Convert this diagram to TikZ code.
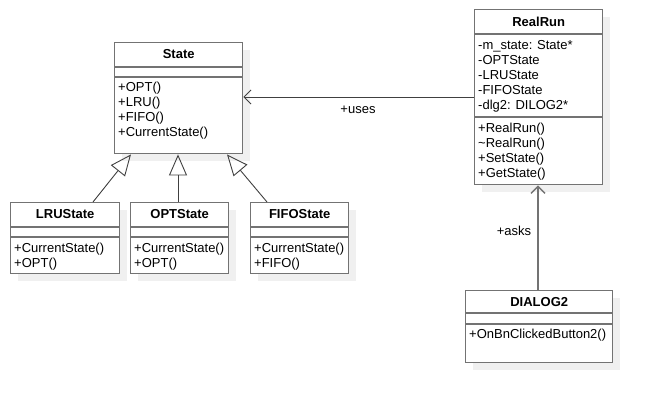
\documentclass[tikz,border=0pt]{standalone}
\usepackage{fontspec}
\setmainfont{Liberation Sans}
\usetikzlibrary{arrows.meta,shadows}

\tikzset{
  umlbox/.style={draw=black!55, line width=1.4pt, fill=white, anchor=north west,
    inner sep=0pt,
    drop shadow={shadow xshift=7pt, shadow yshift=-7pt, fill=black!6, opacity=1}},
  umlsep/.style={draw=black!55, line width=1.4pt},
  umltitle/.style={font=\fontsize{13}{15}\selectfont\bfseries, inner sep=0pt},
  umltext/.style={anchor=base west, inner sep=0pt},
  umlline/.style={draw=black!75, line width=0.9pt},
  isa/.style={umlline, -{Triangle[open,length=21pt,width=18pt]}},
}

\begin{document}
\begin{tikzpicture}[x=1pt,y=-1pt,font=\fontsize{13}{15}\selectfont,
  >={Straight Barb[length=7pt,width=14pt]}]
  \useasboundingbox (0,0) rectangle (651,402);

  % State
  \node[umlbox, minimum width=128pt, minimum height=111pt] (state) at (114,42) {};
  \draw[umlsep] (state.west |- 0,67) -- (state.east |- 0,67)
                (state.west |- 0,77) -- (state.east |- 0,77);
  \node[umltitle] (state-title) at (state.north |- 0,54) {State};
  \foreach \t [count=\i] in {+OPT(),+LRU(),+FIFO(),+CurrentState()}
    \node[umltext] (state-m\i) at (118,{76.5+15*\i}) {\t};

  % the three concrete states
  \node[umlbox, minimum width=109pt, minimum height=71pt] (lru) at (10,202) {};
  \node[umlbox, minimum width=98pt, minimum height=71pt] (opt) at (130,202) {};
  \node[umlbox, minimum width=98pt, minimum height=71pt] (fifo) at (250,202) {};
  \foreach \b/\name/\last in {lru/LRUState/+OPT(),opt/OPTState/+OPT(),fifo/FIFOState/+FIFO()} {
    \draw[umlsep] (\b.west |- 0,227) -- (\b.east |- 0,227)
                  (\b.west |- 0,237) -- (\b.east |- 0,237);
    \node[umltitle] (\b-title) at (\b.north |- 0,214) {\name};
    \node[umltext] (\b-m1) at ([xshift=4pt]\b.west |- 0,252.5) {+CurrentState()};
    \node[umltext] (\b-m2) at ([xshift=4pt]\b.west |- 0,267.5) {\last};
  }
  \draw[isa] (lru.north -| 93,0) -- (state.south -| 131,0);
  \draw[isa] (opt.north -| 178,0) -- (state.south -| 178,0);
  \draw[isa] (fifo.north -| 267,0) -- (state.south -| 227,0);

  % RealRun
  \node[umlbox, minimum width=128pt, minimum height=175pt] (realrun) at (474,9) {};
  \draw[umlsep] (realrun.west |- 0,34) -- (realrun.east |- 0,34)
                (realrun.west |- 0,117) -- (realrun.east |- 0,117);
  \node[umltitle] (realrun-title) at (realrun.north |- 0,22) {RealRun};
  \foreach \t [count=\i] in {-m\_state: State*,-OPTState,-LRUState,-FIFOState,-dlg2: DILOG2*}
    \node[umltext] (realrun-a\i) at (478,{34.5+15*\i}) {\t};
  \foreach \t [count=\i] in {+RealRun(),\textasciitilde RealRun(),+SetState(),+GetState()}
    \node[umltext] (realrun-m\i) at (478,{117.5+15*\i}) {\t};

  % DIALOG2
  \node[umlbox, minimum width=147pt, minimum height=72pt] (dialog) at (465,290) {};
  \draw[umlsep] (dialog.west |- 0,313) -- (dialog.east |- 0,313)
                (dialog.west |- 0,324) -- (dialog.east |- 0,324);
  \node[umltitle] (dialog-title) at (dialog.north |- 0,302) {DIALOG2};
  \node[umltext] (dialog-m1) at (469,338.5) {+OnBnClickedButton2()};

  % associations
  \draw[umlline,->] (realrun.west |- 0,97) -- (state.east |- 0,97);
  \node (uses) at (358,110) {+uses};
  \draw[umlline,draw=black!55,line width=1.4pt,->] (dialog.north -| 538,0) -- (realrun.south -| 538,0);
  \node (asks) at (514,231) {+asks};
\end{tikzpicture}
\end{document}
